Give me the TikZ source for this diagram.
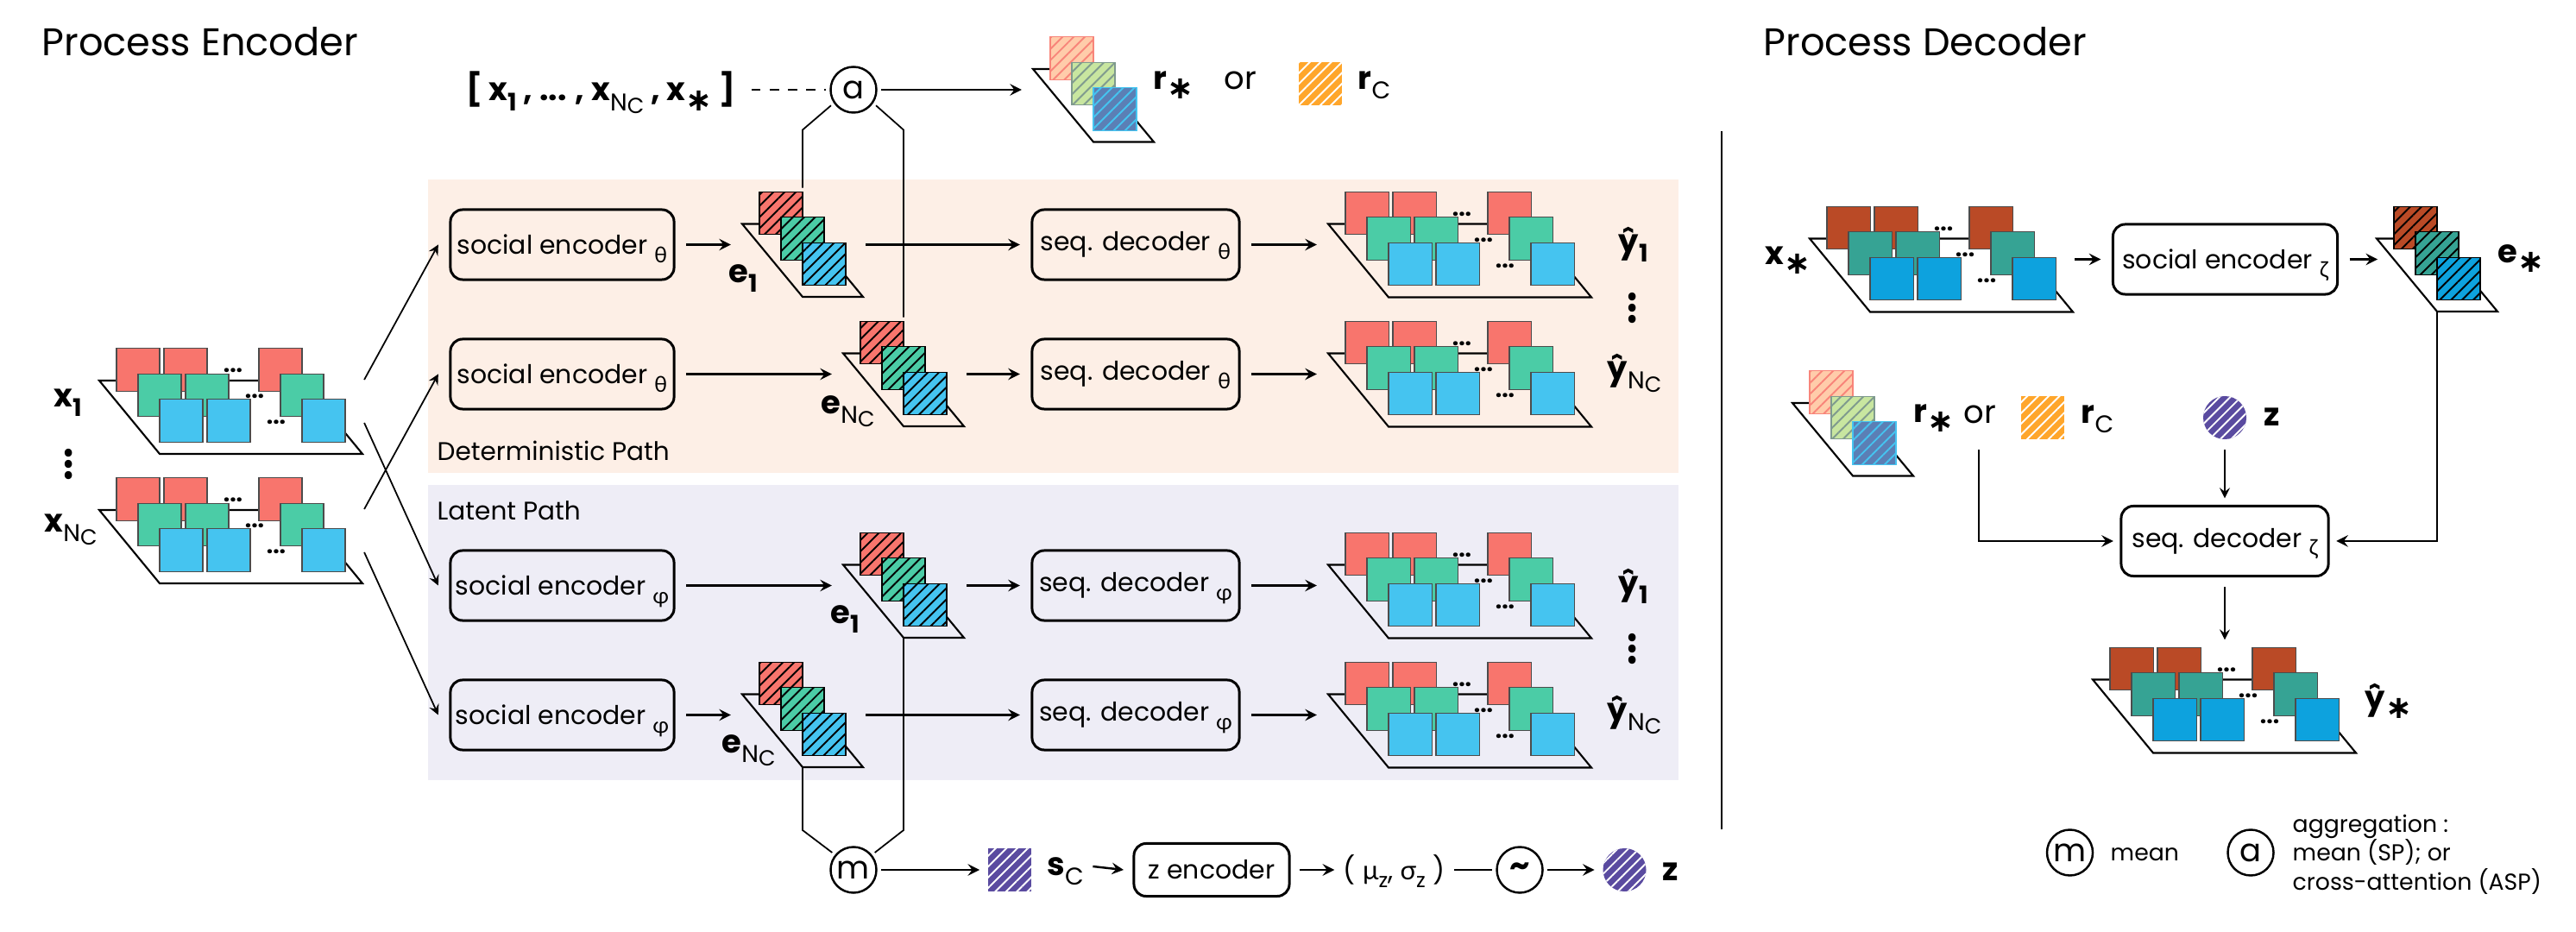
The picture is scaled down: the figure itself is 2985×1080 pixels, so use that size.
\documentclass[tikz,border=0pt]{standalone}
\usepackage{fontspec}
\setmainfont{Poppins}
\newfontfamily\grkfont{Lato}
\newfontfamily\astfont{DejaVu Sans}
\usetikzlibrary{patterns.meta,calc}

\definecolor{cred}{HTML}{F8756D}
\definecolor{cgreen}{HTML}{4BCCA6}
\definecolor{cblue}{HTML}{45C4F0}
\definecolor{dred}{HTML}{BA4A26}
\definecolor{dgreen}{HTML}{36A394}
\definecolor{dblue}{HTML}{0DA2DE}
\definecolor{pred}{HTML}{FFCCAA}
\definecolor{pgreen}{HTML}{C8E6A0}
\definecolor{pblue}{HTML}{5B7FB5}
\definecolor{lred}{HTML}{F8857A}
\definecolor{lgreen}{HTML}{7F9A8E}
\definecolor{cpeach}{HTML}{FDEFE6}
\definecolor{clav}{HTML}{EEEDF6}
\definecolor{cpurple}{HTML}{5A4BA0}
\definecolor{corange}{HTML}{FFA62B}

\newcommand{\subx}[1]{\smash{\raisebox{-.3em}{\scalebox{.76}{#1}}}}
\newcommand{\subc}{\subx{\mdseries C}}
\newcommand{\subnc}{\subx{\mdseries N\raisebox{-.14em}{\scalebox{.9}{C}}}}
\newcommand{\subg}[1]{\smash{\raisebox{-.32em}{\scalebox{.85}{\grkfont #1}}}}
\newcommand{\starx}{\smash{\raisebox{-.3em}{\astfont\bfseries ∗}}}

\newcommand{\widestack}[6]{
    \begin{scope}[shift={(#2,#3)}]
        \node[slot, minimum width=3.2cm] (#1) at (147,24) {};
        \coordinate (#1-tr) at (70,-37);
        \coordinate (#1-bl) at (70,85);
        \draw[sheet] (0,0) -- (70,85) -- (305,85) -- (235,0) -- cycle;
        \foreach \dx in {45,100,210} {\node[sq, fill=#4] (#1-r\dx) at (\dx,-12.5) {};}
        \foreach \dx in {70,125,235} {\node[sq, fill=#5] (#1-g\dx) at (\dx,17) {};}
        \foreach \dx in {95,150,260} {\node[sq, fill=#6] (#1-b\dx) at (\dx,46.5) {};}
        \foreach \dx/\dy in {155/-9,180/21,205/51} {\node[gap] (#1-d\dx) at (\dx,\dy) {...};}
    \end{scope}
}
\newcommand{\thinstack}[6]{
    \begin{scope}[shift={(#2,#3)}]
        \node[slot, minimum width=1.56cm] (#1) at (65,24) {};
        \coordinate (#1-tr) at (70,-37);
        \coordinate (#1-bl) at (70,84.5);
        \draw[sheet] (0,0) -- (70,84.5) -- (140,84.5) -- (70,0) -- cycle;
        \node[sq, #4] (#1-r) at (45,-12.5) {};
        \node[sq, #5] (#1-g) at (70,17) {};
        \node[sq, #6] (#1-b) at (95,46.5) {};
    \end{scope}
}

\begin{document}
\begin{tikzpicture}[
    x=0.01cm, y=-0.01cm,
    box/.style={draw, line width=.85pt, rounded corners=.14cm, inner sep=0, outer sep=4pt, font=\fontsize{8.5}{10}\selectfont},
    arrow/.style={->, line width=.7pt, >=stealth},
    thinarrow/.style={->, line width=.5pt, >=stealth},
    plain/.style={line width=.5pt},
    sheet/.style={line width=.6pt},
    slot/.style={inner sep=0, outer sep=0, minimum height=.5cm},
    sq/.style={draw=black!70, line width=.3pt, inner sep=0, outer sep=0, minimum width=.5cm, minimum height=.495cm},
    gap/.style={inner sep=0, anchor=base, font=\bfseries\fontsize{7.5}{8}\selectfont},
    hatch/.style 2 args={preaction={fill=#1}, draw=#2, line width=.4pt, pattern={Lines[angle=45, distance=2.6pt, line width=.55pt]}, pattern color=#2},
    whitehatch/.style={preaction={fill=#1}, pattern={Lines[angle=45, distance=2.5pt, line width=.55pt]}, pattern color=white},
    op/.style={draw, circle, line width=.7pt, inner sep=0, outer sep=1.5pt, minimum size=.53cm, font=\fontsize{10.5}{12}\selectfont},
    lab/.style={inner sep=0, anchor=west, font=\bfseries\fontsize{10.5}{12}\selectfont},
    vdots/.style={inner sep=0, anchor=base, rotate=90, font=\bfseries\fontsize{13}{13}\selectfont},
    head/.style={inner sep=0, anchor=west, font=\fontsize{12.7}{15}\selectfont},
    tag/.style={inner sep=0, anchor=west, font=\fontsize{7.6}{9.5}\selectfont},
    pathtag/.style={inner sep=0, anchor=west, font=\fontsize{8.4}{10}\selectfont}
]
    \path[use as bounding box] (0,0) rectangle (2985,1080);
    \fill[cpeach] (496,208) rectangle (1945,548);
    \fill[clav] (496,562) rectangle (1945,904);

    \node[head] (enchead) at (48,48) {Process Encoder};
    \node[head] (dechead) at (2043,48) {Process Decoder};
    \node[pathtag] (dettag) at (506,522) {Deterministic Path};
    \node[pathtag] (lattag) at (506,592) {Latent Path};

    \widestack{xa}{115}{441}{cred}{cgreen}{cblue}
    \widestack{xb}{115}{591}{cred}{cgreen}{cblue}
    \widestack{yt1}{1539}{259.5}{cred}{cgreen}{cblue}
    \widestack{yt2}{1539}{409.5}{cred}{cgreen}{cblue}
    \widestack{yp1}{1539}{654.5}{cred}{cgreen}{cblue}
    \widestack{yp2}{1539}{804.5}{cred}{cgreen}{cblue}
    \widestack{xs}{2097}{276.5}{dred}{dgreen}{dblue}
    \widestack{ys}{2425}{787.5}{dred}{dgreen}{dblue}

    \thinstack{e1t}{860}{259.5}{hatch={cred}{black}}{hatch={cgreen}{black}}{hatch={cblue}{black}}
    \thinstack{ent}{977}{409.5}{hatch={cred}{black}}{hatch={cgreen}{black}}{hatch={cblue}{black}}
    \thinstack{e1p}{977}{654.5}{hatch={cred}{black}}{hatch={cgreen}{black}}{hatch={cblue}{black}}
    \thinstack{enp}{860}{804.5}{hatch={cred}{black}}{hatch={cgreen}{black}}{hatch={cblue}{black}}
    \thinstack{es}{2754}{276.5}{hatch={dred}{black}}{hatch={dgreen}{black}}{hatch={dblue}{black}}
    \thinstack{rt}{1197}{80}{hatch={pred}{lred}}{hatch={pgreen}{lgreen}}{hatch={pblue}{cblue}}
    \thinstack{rd}{2077}{467}{hatch={pred}{lred}}{hatch={pgreen}{lgreen}}{hatch={pblue}{cblue}}

    \node[box, minimum width=2.59cm, minimum height=.81cm] (set1) at (651.5,283.5) {social encoder \subg{θ}};
    \node[box, minimum width=2.59cm, minimum height=.81cm] (set2) at (651.5,433.5) {social encoder \subg{θ}};
    \node[box, minimum width=2.59cm, minimum height=.81cm] (sep1) at (651.5,678.5) {social encoder \subg{φ}};
    \node[box, minimum width=2.59cm, minimum height=.81cm] (sep2) at (651.5,828.5) {social encoder \subg{φ}};
    \node[box, minimum width=2.4cm, minimum height=.81cm] (sdt1) at (1316,283.5) {seq. decoder \subg{θ}};
    \node[box, minimum width=2.4cm, minimum height=.81cm] (sdt2) at (1316,433.5) {seq. decoder \subg{θ}};
    \node[box, minimum width=2.4cm, minimum height=.81cm] (sdp1) at (1316,678.5) {seq. decoder \subg{φ}};
    \node[box, minimum width=2.4cm, minimum height=.81cm] (sdp2) at (1316,828.5) {seq. decoder \subg{φ}};
    \node[box, minimum width=2.6cm, minimum height=.81cm] (sez) at (2578.5,300.5) {social encoder \subg{ζ}};
    \node[box, minimum width=2.4cm, minimum height=.81cm, outer sep=2.6pt] (sdz) at (2578,627) {seq. decoder \subg{ζ}};
    \node[box, minimum width=1.8cm, minimum height=.61cm, outer sep=3.4pt] (zen) at (1404,1008) {z encoder};

    \node[op] (aop) at (989,104) {a};
    \node[op] (mop) at (989,1008) {m};
    \node[op] (sop) at (1761,1008) {\bfseries\textasciitilde};
    \node[op] (mleg) at (2398.5,988) {m};
    \node[op] (aleg) at (2608,988) {a};

    \node[sq, whitehatch=cpurple, draw=none, outer sep=2.8pt] (scq) at (1170,1008) {};
    \node[sq, whitehatch=corange, draw=none] (rct) at (1530,97) {};
    \node[sq, whitehatch=corange, draw=none] (rcd) at (2367,484) {};
    \node[circle, whitehatch=cpurple, inner sep=0, minimum size=.5cm, outer sep=2.8pt] (zc1) at (1882.5,1008) {};
    \node[circle, whitehatch=cpurple, inner sep=0, minimum size=.5cm, outer sep=3.4pt] (zc2) at (2578,484) {};

    \node[lab, anchor=center, outer sep=5.4pt] (xlist) at (696,104) {[ x\subx{1} , ... , x\subnc{} , x\starx{} ]};
    \node[lab] (x1l) at (62,461) {x\subx{1}};
    \node[lab] (xnl) at (51,606) {x\subnc};
    \node[lab] (e1tl) at (844,317) {e\subx{1}};
    \node[lab] (entl) at (951,469) {e\subnc};
    \node[lab] (e1pl) at (962,712) {e\subx{1}};
    \node[lab] (enpl) at (836,862) {e\subnc};
    \node[lab] (yt1l) at (1875,283) {ŷ\subx{1}};
    \node[lab] (yt2l) at (1862,430) {ŷ\subnc};
    \node[lab] (yp1l) at (1875,679) {ŷ\subx{1}};
    \node[lab] (yp2l) at (1862,826) {ŷ\subnc};
    \node[lab] (rtl) at (1336,93) {r\starx};
    \node[lab, font=\fontsize{10.5}{12}\selectfont] (ort) at (1418,93) {or};
    \node[lab] (rct2) at (1573,93) {r\subc};
    \node[lab, outer sep=3pt] (scl) at (1203,1004) {s\subc};
    \node[lab, anchor=center, font=\fontsize{8.8}{10}\selectfont, outer sep=3pt] (ms) at (1615.5,1008) {( {\grkfont μ}\subx{z}, {\grkfont σ}\subx{z} )};
    \node[lab] (zl1) at (1926,1010) {z};
    \node[lab] (xsl) at (2045,296) {x\starx};
    \node[lab] (esl) at (2894,294) {e\starx};
    \node[lab] (rdl) at (2217,479) {r\starx};
    \node[lab, font=\fontsize{10.5}{12}\selectfont] (ord) at (2275,480) {or};
    \node[lab] (rcl) at (2411,480) {r\subc};
    \node[lab] (zl2) at (2623,483) {z};
    \node[lab] (ysl) at (2740,812) {ŷ\starx};
    \node[tag] (mtxt) at (2445,990) {mean};
    \node[tag, align=left] (atxt) at (2656,990) {aggregation :\\mean (SP); or\\cross-attention (ASP)};

    \node[vdots] (vd1) at (83,538) {...};
    \node[vdots] (vd2) at (1895,357) {...};
    \node[vdots] (vd3) at (1895,752) {...};

    \draw[thinarrow] (xa.north east) -- (set1.west);
    \draw[thinarrow] (xa.south east) -- (sep1.west);
    \draw[thinarrow] (xb.north east) -- (set2.west);
    \draw[thinarrow] (xb.south east) -- (sep2.west);

    \draw[arrow] (set1) -- (e1t);
    \draw[arrow] (set2) -- (ent);
    \draw[arrow] (sep1) -- (e1p);
    \draw[arrow] (sep2) -- (enp);
    \draw[arrow] (e1t.east) -- (sdt1.west);
    \draw[arrow] (ent.east) -- (sdt2.west);
    \draw[arrow] (e1p.east) -- (sdp1.west);
    \draw[arrow] (enp.east) -- (sdp2.west);
    \draw[arrow] (sdt1.east) -- (yt1.west);
    \draw[arrow] (sdt2.east) -- (yt2.west);
    \draw[arrow] (sdp1.east) -- (yp1.west);
    \draw[arrow] (sdp2.east) -- (yp2.west);

    \draw[plain, shorten <=1.4pt] (e1t-tr) -- ++(0,-72) -- (aop.215);
    \draw[plain, shorten <=1.4pt] (ent-tr) -- ++(0,-222) -- (aop.325);
    \draw[plain] (enp-bl) -- ++(0,73) -- (mop.141);
    \draw[plain] (e1p-bl) -- ++(0,223) -- (mop.39);

    \draw[line width=.6pt, dashed] (xlist.east) -- (aop.west);
    \draw[arrow] (aop.east) -- (rt.west);
    \draw[arrow] (mop.east) -- (scq.west);
    \draw[arrow] (scl.east) -- (zen.west);
    \draw[arrow] (zen.east) -- (ms.west);
    \draw[line width=.7pt] (ms.east) -- (sop.west);
    \draw[arrow] (sop.east) -- (zc1.west);

    \coordinate (orl) at (2293,521);
    \coordinate (divt) at (1995,152);
    \coordinate (divb) at (1995,961);
    \draw[line width=.55pt] (divt) -- (divb);
    \draw[arrow] (xs.east) -- (sez.west);
    \draw[arrow, shorten >=-4pt] (sez.east) -- (es.west);
    \draw[arrow] (es-bl) |- (sdz.east);
    \draw[arrow] (orl) |- (sdz.west);
    \draw[thinarrow] (zc2.south) -- (sdz.north);
    \draw[thinarrow, shorten <=1pt, shorten >=2.6pt] (sdz.south) -- (sdz.south |- ys-tr);
\end{tikzpicture}
\end{document}
